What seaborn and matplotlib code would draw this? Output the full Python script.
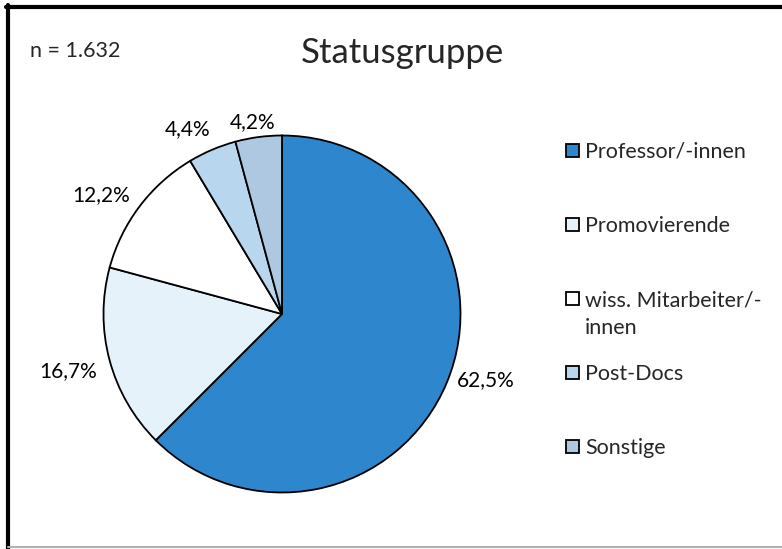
import matplotlib
matplotlib.use("Agg")
import numpy as np
import matplotlib.pyplot as plt
import seaborn as sns
from matplotlib.lines import Line2D

sns.set_theme(style="white")
plt.rcParams['font.family'] = ['Lato', 'DejaVu Sans']

# data
groups = ['Professor/-innen', 'Promovierende', 'wiss. Mitarbeiter/-', 'Post-Docs', 'Sonstige']
shares = [62.5, 16.7, 12.2, 4.4, 4.2]
share_labels = ['62,5%', '16,7%', '12,2%', '4,4%', '4,2%']
n_total = '1.632'

colors = ['#2E86CD', '#E6F2FA', '#FFFFFF', '#B8D7EE', '#ADC8E0']
# label placement (radius factor, angle nudge in degrees) like Excel's outside-end labels
label_dist = [1.2, 1.24, 1.215, 1.16, 1.09]
label_nudge = [4.5, 0, 3.8, 4.0, 1.2]

W, H = 782, 549
fig = plt.figure(figsize=(W / 100, H / 100), dpi=100)

cx, cy, r = 282, 314, 178.5
ax = fig.add_axes([(cx - r) / W, (H - cy - r) / H, 2 * r / W, 2 * r / H])
wedges, _ = ax.pie(shares, colors=colors, startangle=90, counterclock=False,
                   wedgeprops=dict(edgecolor='black', linewidth=1.3))
ax.set_xlim(-1, 1)
ax.set_ylim(-1, 1)
ax.set_aspect('equal')

# percent labels outside the wedges
for w, lab, d, nudge in zip(wedges, share_labels, label_dist, label_nudge):
    ang = np.deg2rad((w.theta1 + w.theta2) / 2 + nudge)
    ax.text(d * np.cos(ang), d * np.sin(ang), lab, ha='center', va='center',
            fontsize=15, color='black', clip_on=False)

fig.text(402 / W, 1 - 63 / H, 'Statusgruppe', ha='center', va='baseline', fontsize=25)
fig.text(30 / W, 1 - 57 / H, f'n = {n_total}', ha='left', va='baseline', fontsize=15.5)

leg = fig.legend(wedges, groups, loc='upper left', bbox_to_anchor=(566 / W, 1 - 142 / H),
                 frameon=False, fontsize=15.5, handlelength=0.6, handleheight=0.6,
                 handletextpad=0.28, labelspacing=2.51, borderpad=0, borderaxespad=0)

# second line of the wrapped legend entry
fig.canvas.draw()
bb = leg.get_texts()[2].get_window_extent()
fig.text(bb.x0 / W, (bb.y0 - 28) / H, 'innen', ha='left', va='bottom', fontsize=15.5)

# chart border as in the source
fig.add_artist(Line2D([6 / W, 1], [1 - 7 / H, 1 - 7 / H], transform=fig.transFigure, color='black', lw=3))
fig.add_artist(Line2D([8 / W, 8 / W], [0, 1 - 5 / H], transform=fig.transFigure, color='black', lw=3))
fig.add_artist(Line2D([8 / W, 1], [2 / H, 2 / H], transform=fig.transFigure, color='#B0B0B0', lw=1.5))

fig.savefig('out.png', dpi=100)
